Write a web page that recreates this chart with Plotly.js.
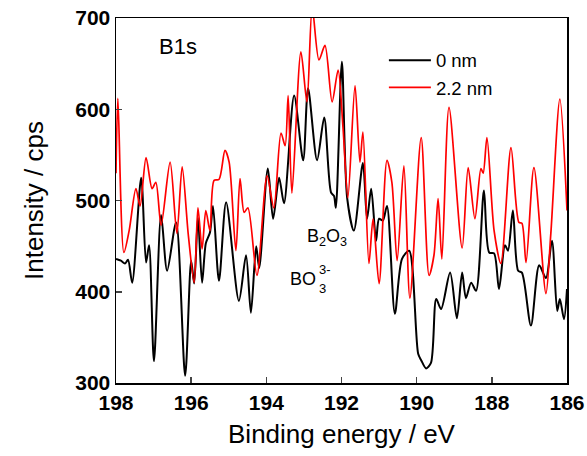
<!DOCTYPE html>
<html>
<head>
<meta charset="utf-8">
<script src="https://cdn.plot.ly/plotly-3.0.1.min.js"></script>
<style>html,body{margin:0;padding:0;background:#fff;}#chart{width:587px;height:456px;}</style>
</head>
<body>
<div id="chart"></div>
<script>
// Binding energy (eV) and intensity (cps) for 0 nm
const energy0 = [198.00,197.87,197.76,197.68,197.57,197.33,197.20,197.12,196.99,196.80,196.64,196.40,196.16,196.00,195.92,195.82,195.71,195.61,195.50,195.42,195.26,195.07,194.73,194.54,194.41,194.27,194.19,193.96,193.82,193.66,193.53,193.26,193.02,192.89,192.65,192.46,192.28,192.20,192.15,191.99,191.85,191.67,191.43,191.32,191.21,191.08,191.00,190.90,190.79,190.58,190.39,190.20,189.96,189.88,189.75,189.62,189.48,189.35,189.11,188.93,188.79,188.69,188.55,188.42,188.21,188.07,187.94,187.81,187.65,187.57,187.44,187.30,187.20,186.96,186.74,186.56,186.40,186.26,186.19,186.08,186.00];
const counts0 = [436,434,431,435,410,525,432,451,324,484,423,476,308,434,409,481,410,453,465,494,412,498,390,440,377,450,426,535,480,525,497,615,544,623,544,591,509,505,492,652,503,467,541,480,513,456,480,478,494,376,436,445,332,325,316,322,392,381,421,371,421,393,410,401,511,443,442,403,451,445,489,423,421,363,429,415,456,379,392,370,403];
// Binding energy (eV) and intensity (cps) for 2.2 nm
const energy22 = [198.00,197.95,197.79,197.65,197.47,197.36,197.20,197.04,196.94,196.80,196.56,196.38,196.24,196.08,195.92,195.82,195.71,195.61,195.50,195.39,195.26,195.10,194.99,194.81,194.70,194.59,194.49,194.25,193.98,193.80,193.61,193.50,193.42,193.32,193.08,192.92,192.78,192.60,192.44,192.25,192.09,191.96,191.83,191.64,191.51,191.43,191.27,191.16,191.00,190.79,190.66,190.52,190.34,190.18,189.88,189.67,189.54,189.43,189.33,189.14,188.79,188.63,188.45,188.29,188.23,188.13,187.94,187.76,187.49,187.28,187.20,187.09,186.88,186.56,186.43,186.19,186.00];
const counts22 = [530,612,443,467,513,494,547,513,520,473,542,464,537,464,410,492,447,489,467,522,523,555,542,445,524,487,492,418,527,492,574,560,615,508,663,608,712,654,670,608,643,580,503,626,542,575,431,480,409,544,520,434,538,393,569,418,440,502,436,602,448,536,480,535,530,569,467,431,558,476,475,432,536,398,464,611,489];
const seriesNames = ["0 nm", "2.2 nm"];
const xTicks = [198,196,194,192,190,188,186];
const yTicks = [300,400,500,600,700];

const font = "Arial, 'Liberation Sans', sans-serif";
const traces = [
  {x: energy0, y: counts0, name: seriesNames[0], type: "scatter", mode: "lines",
   line: {color: "#000000", width: 2, shape: "spline", smoothing: 0.8}},
  {x: energy22, y: counts22, name: seriesNames[1], type: "scatter", mode: "lines",
   line: {color: "#ff0000", width: 1.7, shape: "spline", smoothing: 0.8}}
];
const layout = {
  width: 587, height: 456,
  margin: {l: 116, r: 20, t: 18, b: 73},
  paper_bgcolor: "#fff", plot_bgcolor: "#fff",
  font: {family: font, color: "#000"},
  showlegend: true,
  legend: {x: 0.594, y: 0.935, xanchor: "left", yanchor: "top", itemwidth: 42,
           bgcolor: "rgba(0,0,0,0)", font: {size: 18.5, family: font}, tracegroupgap: 0},
  xaxis: {range: [198, 186], tickvals: xTicks, ticktext: xTicks.map(String),
          ticks: "inside", ticklen: 6, tickwidth: 1.5, showline: true, linewidth: 1.5,
          linecolor: "#000", mirror: true, showgrid: false, zeroline: false,
          tickfont: {size: 21, family: font, weight: "bold"},
          title: {text: "Binding energy / eV", font: {size: 26, family: font}, standoff: 12}},
  yaxis: {range: [300, 700], tickvals: yTicks, ticktext: yTicks.map(String),
          ticks: "inside", ticklen: 6, tickwidth: 1.5, showline: true, linewidth: 1.5,
          linecolor: "#000", mirror: true, showgrid: false, zeroline: false,
          tickfont: {size: 21, family: font, weight: "bold"},
          title: {text: "Intensity / cps", font: {size: 26, family: font}, standoff: 24}},
  annotations: [
    {x: 196.35, y: 669, text: "B1s", showarrow: false, font: {size: 22, family: font}},
    {x: 192.39, y: 460, text: "B<sub>2</sub>O<sub>3</sub>", showarrow: false, font: {size: 18, family: font}},
    {x: 192.62, y: 414, xanchor: "right", text: "BO", showarrow: false, font: {size: 18, family: font}},
    {x: 192.64, y: 424, xanchor: "left", text: "3-", showarrow: false, font: {size: 13, family: font}},
    {x: 192.64, y: 404, xanchor: "left", text: "3", showarrow: false, font: {size: 13, family: font}}
  ]
};
Plotly.newPlot("chart", traces, layout, {displayModeBar: false, staticPlot: true});
</script>
</body>
</html>
